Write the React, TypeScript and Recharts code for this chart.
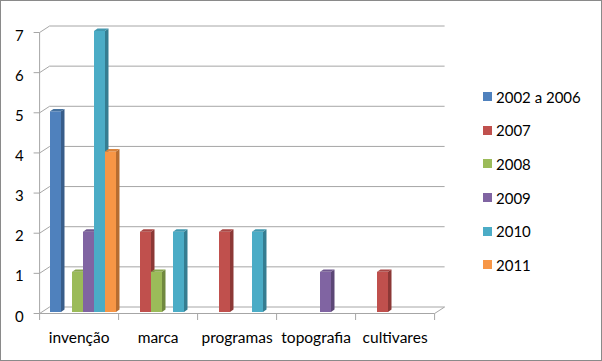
import React from 'react';
import { BarChart, Bar, XAxis, YAxis, CartesianGrid } from 'recharts';

const categories = ['invenção', 'marca', 'programas', 'topografia', 'cultivares'];
const seriesNames = ['2002 a 2006', '2007', '2008', '2009', '2010', '2011'];
const v2002a2006 = [5, 0, 0, 0, 0];
const v2007 = [0, 2, 2, 0, 1];
const v2008 = [1, 1, 0, 0, 0];
const v2009 = [2, 0, 0, 1, 0];
const v2010 = [7, 2, 2, 0, 0];
const v2011 = [4, 0, 0, 0, 0];
const yTicks = [0, 1, 2, 3, 4, 5, 6, 7];

const seriesValues = [v2002a2006, v2007, v2008, v2009, v2010, v2011];
const colors = ['#4F81BD', '#C0504D', '#9BBB59', '#8064A2', '#4BACC6', '#F79646'];
const sideColors = ['#385D8A', '#8C3836', '#71893F', '#5C4776', '#357D91', '#B66D31'];
const topColors = ['#46729F', '#A94745', '#88A54E', '#71598F', '#4298AF', '#D9843D'];

const data = categories.map((name, i) => {
  const row: Record<string, string | number> = { name };
  seriesNames.forEach((s, j) => {
    row[s] = seriesValues[j][i];
  });
  return row;
});

const FONT = 'Lato, "Noto Sans", sans-serif';
const GRID = '#a6a6a6';
// depth offsets relative to the bar plane
const FX = -2.4;
const FY = 1.5;
const BX = 7.6;
const BY = -5;

function bar3D(idx: number) {
  return (props: any) => {
    const { x, y, width, height } = props;
    if (!height || height <= 0) return <g />;
    const d = 3.5;
    const e = 2.4;
    return (
      <g>
        <rect x={x} y={y} width={width} height={height} fill={colors[idx]} />
        <polygon
          points={`${x + width},${y} ${x + width + d},${y - e} ${x + width + d},${y + height - e} ${x + width},${y + height}`}
          fill={sideColors[idx]}
        />
        <polygon
          points={`${x},${y} ${x + d},${y - e} ${x + width + d},${y - e} ${x + width},${y}`}
          fill={topColors[idx]}
        />
      </g>
    );
  };
}

const gridLine = (p: any) => {
  const { x, y, width, height, y1, index } = p;
  const bottom = y + height;
  const isFloor = Math.abs(y1 - bottom) < 0.5;
  const step = width / categories.length;
  return (
    <g key={`g-${index}`}>
      <line x1={x + BX} y1={y1 + BY} x2={x + width + BX} y2={y1 + BY} stroke={GRID} />
      <line x1={x + FX} y1={y1 + FY} x2={x + BX} y2={y1 + BY} stroke={GRID} />
      <line x1={x + FX - 6} y1={y1 + FY} x2={x + FX} y2={y1 + FY} stroke={GRID} />
      {isFloor && (
        <g>
          <line x1={x + FX} y1={y + FY} x2={x + FX} y2={bottom + FY} stroke={GRID} />
          <line x1={x + FX} y1={bottom + FY} x2={x + width + FX} y2={bottom + FY} stroke={GRID} />
          <line x1={x + width + FX} y1={bottom + FY} x2={x + width + BX} y2={bottom + BY} stroke={GRID} />
          {categories.concat(['']).map((_, i) => (
            <line
              key={`t-${i}`}
              x1={x + FX + i * step}
              y1={bottom + FY}
              x2={x + FX + i * step}
              y2={bottom + FY + 6.5}
              stroke={GRID}
            />
          ))}
        </g>
      )}
    </g>
  );
};

const YTick = (props: any) => {
  const { x, y, payload } = props;
  return (
    <text x={x + FX - 16} y={y + FY + 8} textAnchor="end" fontFamily={FONT} fontSize={15} fill="#000">
      {payload.value}
    </text>
  );
};

const XTick = (props: any) => {
  const { x, y, payload } = props;
  return (
    <text x={x + FX} y={y + FY + 29} textAnchor="middle" fontFamily={FONT} fontSize={15.5} fill="#000">
      {payload.value}
    </text>
  );
};

export default function App() {
  return (
    <div style={{ position: 'absolute', left: 0, top: 0, width: 602, height: 361, background: '#fff' }}>
      <BarChart
        width={602}
        height={361}
        data={data}
        margin={{ top: 31, right: 165, bottom: 19, left: 0 }}
        barGap={0}
        barCategoryGap={8}
      >
        <CartesianGrid horizontal={gridLine} vertical={false} />
        <XAxis
          dataKey="name"
          height={30}
          axisLine={false}
          tickLine={false}
          tickSize={0}
          tickMargin={0}
          tick={<XTick />}
          interval={0}
        />
        <YAxis
          width={42}
          domain={[0, 7]}
          ticks={yTicks}
          axisLine={false}
          tickLine={false}
          tickSize={0}
          tickMargin={0}
          tick={<YTick />}
        />
        {seriesNames.map((s, j) => (
          <Bar key={s} dataKey={s} fill={colors[j]} shape={bar3D(j)} isAnimationActive={false} />
        ))}
      </BarChart>
      <div style={{ position: 'absolute', left: 483, top: 80, fontFamily: FONT, fontSize: 15, color: '#000' }}>
        {seriesNames.map((s, j) => (
          <div key={s} style={{ height: 33.6, display: 'flex', alignItems: 'center' }}>
            <span style={{ width: 9, height: 9, background: colors[j], display: 'inline-block', marginRight: 4 }} />
            <span>{s}</span>
          </div>
        ))}
      </div>
      <div
        style={{
          position: 'absolute',
          left: 0,
          top: 0,
          width: 602,
          height: 361,
          boxSizing: 'border-box',
          border: '1px solid #8a8a8a',
          pointerEvents: 'none',
        }}
      />
    </div>
  );
}
